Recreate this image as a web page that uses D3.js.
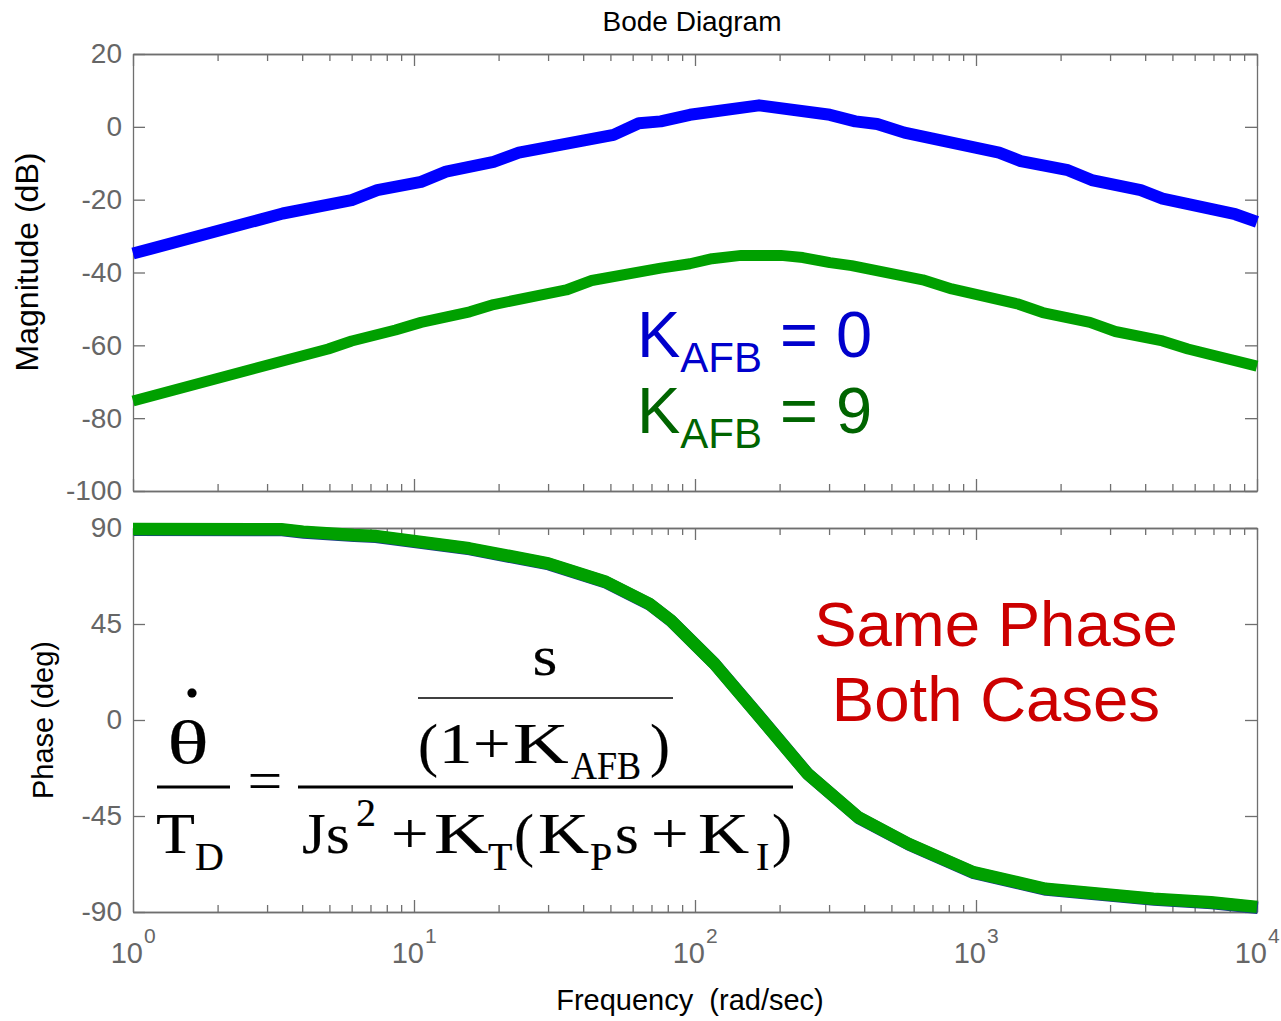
<!DOCTYPE html>
<html>
<head>
<meta charset="utf-8">
<script src="https://cdn.jsdelivr.net/npm/d3@7"></script>
<style>
  body { margin: 0; background: #fff; }
  svg { display: block; }
</style>
</head>
<body>
<svg id="chart" width="1281" height="1021"></svg>
<script>
// frequencies (rad/sec) and magnitudes (dB)
const blueFreq = [1, 3.41, 6.0, 7.4, 10.6, 13.0, 19.2, 23.6, 51.3, 63.1, 75.5, 95.9, 169, 302, 372, 445, 556, 1208, 1443, 2124, 2580, 3857, 4610, 8370, 10000];
const blueMag  = [-34.8, -23.8, -20.1, -17.4, -15.1, -12.3, -9.6, -7.1, -2.2, 1.0, 1.5, 3.3, 5.9, 3.3, 1.5, 0.8, -1.6, -7.1, -9.4, -11.9, -14.6, -17.4, -19.7, -24.0, -26.1];

const greenFreq = [1, 3.41, 4.95, 6.0, 8.59, 10.6, 15.8, 19.2, 34.8, 42.9, 75.5, 95.9, 115, 146, 202, 242, 302, 361, 646, 820, 1403, 1727, 2543, 3131, 4610, 5680, 10000];
const greenMag  = [-75.3, -64.3, -61.0, -58.8, -55.8, -53.7, -50.8, -48.8, -44.8, -42.2, -38.8, -37.6, -36.2, -35.3, -35.3, -35.9, -37.3, -38.1, -42.0, -44.5, -48.6, -51.0, -53.7, -56.2, -58.8, -61.0, -65.7];

// phase is the same for both cases
const phaseFreq = [1, 3.37, 4.03, 6.09, 7.26, 15.7, 30.0, 48.1, 68.5, 81.8, 117, 166, 251, 380, 574, 977, 1766, 4276, 6855, 10000];
const phaseDeg  = [89.5, 89.4, 88.3, 86.7, 86.3, 80.5, 73.4, 64.8, 54.6, 46.8, 26.5, 3.0, -25.1, -45.5, -58.0, -71.3, -79.1, -83.8, -85.4, -87.6];

const magTicks = [20, 0, -20, -40, -60, -80, -100];
const phaseTicks = [90, 45, 0, -45, -90];
const decades = [1, 10, 100, 1000, 10000];

const svg = d3.select("#chart");
const sans = "'Liberation Sans', Arial, sans-serif";
const serif = "'Liberation Serif', 'Times New Roman', serif";
const axisGrey = "#6f6f6f";

const left = 133, right = 1257;
const x = d3.scaleLog().domain([1, 1e4]).range([left, right]);
const yMag = d3.scaleLinear().domain([-100, 20]).range([491, 54]);
const yPh = d3.scaleLinear().domain([-90, 90]).range([912, 528]);

const minorTicks = [];
for (let d = 0; d < 4; d++) for (let k = 2; k <= 9; k++) minorTicks.push(k * Math.pow(10, d));

const styleAxis = (g) => {
  g.selectAll("path.domain").attr("stroke", axisGrey).attr("stroke-width", 1.3);
  g.selectAll(".tick line").attr("stroke", axisGrey).attr("stroke-width", 1.3);
  g.selectAll(".tick text").attr("fill", "#666").attr("font-size", 28).attr("font-family", sans);
};

const addFrame = (yScale, ticks, label) => {
  const [yb, yt] = yScale.range();
  // y axes, left with labels and right without
  svg.append("g")
    .attr("transform", `translate(${left},0)`)
    .call(d3.axisLeft(yScale).tickValues(ticks).tickSizeInner(-12).tickSizeOuter(0).tickPadding(11).tickFormat(d => String(d)))
    .call(styleAxis);
  svg.append("g")
    .attr("transform", `translate(${right},0)`)
    .call(d3.axisRight(yScale).tickValues(ticks).tickSizeInner(-12).tickSizeOuter(0).tickFormat(""))
    .call(styleAxis);
  // x ticks on top and bottom edges
  [[d3.axisTop, yt], [d3.axisBottom, yb]].forEach(([ax, yy]) => {
    svg.append("g")
      .attr("transform", `translate(0,${yy})`)
      .call(ax(x).tickValues(minorTicks).tickSizeInner(-7).tickSizeOuter(0).tickFormat(""))
      .call(styleAxis);
    svg.append("g")
      .attr("transform", `translate(0,${yy})`)
      .call(ax(x).tickValues(decades).tickSizeInner(-12).tickSizeOuter(0).tickFormat(""))
      .call(styleAxis);
  });
  svg.append("text")
    .attr("transform", `translate(${label.x},${label.y}) rotate(-90)`)
    .attr("text-anchor", "middle")
    .attr("font-family", sans)
    .attr("font-size", label.size)
    .text(label.text);
};

addFrame(yMag, magTicks, { x: 38, y: 262, size: 32, text: "Magnitude (dB)" });
addFrame(yPh, phaseTicks, { x: 53, y: 720, size: 29, text: "Phase (deg)" });

// curves
const magLine = d3.line().x(d => x(d[0])).y(d => yMag(d[1]));
const phLine = d3.line().x(d => x(d[0])).y(d => yPh(d[1]));

svg.append("path")
  .datum(blueFreq.map((f, i) => [f, blueMag[i]]))
  .attr("d", magLine).attr("fill", "none")
  .attr("stroke", "#0000ff").attr("stroke-width", 12).attr("stroke-linejoin", "round");
svg.append("path")
  .datum(greenFreq.map((f, i) => [f, greenMag[i]]))
  .attr("d", magLine).attr("fill", "none")
  .attr("stroke", "#00a000").attr("stroke-width", 11).attr("stroke-linejoin", "round");

const phData = phaseFreq.map((f, i) => [f, phaseDeg[i]]);
svg.append("path").datum(phData)
  .attr("d", phLine).attr("fill", "none").attr("transform", "translate(0.8,0.8)")
  .attr("stroke", "#1a3a8a").attr("stroke-width", 12.5).attr("stroke-linejoin", "round");
svg.append("path").datum(phData)
  .attr("d", phLine).attr("fill", "none")
  .attr("stroke", "#00a000").attr("stroke-width", 12.5).attr("stroke-linejoin", "round");

// x tick labels 10^n
const xl = svg.append("g").attr("font-family", sans).attr("fill", "#666");
decades.forEach((d, i) => {
  xl.append("text").attr("x", x(d) + 10).attr("y", 963).attr("text-anchor", "end").attr("font-size", 29).text("10");
  xl.append("text").attr("x", x(d) + 11).attr("y", 943).attr("font-size", 21).text(i);
});

// titles
svg.append("text").attr("x", 692).attr("y", 31).attr("text-anchor", "middle")
  .attr("font-family", sans).attr("font-size", 28).text("Bode Diagram");
svg.append("text").attr("x", 690).attr("y", 1010).attr("text-anchor", "middle")
  .attr("font-family", sans).attr("font-size", 29).style("white-space", "pre")
  .text("Frequency  (rad/sec)");

// legend-like annotations
const kLabel = (y, color, val) => {
  const t = svg.append("text").attr("x", 637).attr("y", y)
    .attr("font-family", sans).attr("font-size", 65).attr("fill", color);
  t.append("tspan").text("K");
  t.append("tspan").attr("font-size", 42).attr("dy", 15).text("AFB");
  t.append("tspan").attr("dy", -15).style("white-space", "pre").text(" = " + val);
};
kLabel(357, "#0000cc", "0");
kLabel(433, "#006400", "9");

svg.append("text").attr("x", 996).attr("y", 646).attr("text-anchor", "middle")
  .attr("font-family", sans).attr("font-size", 63.5).attr("fill", "#cc0000").text("Same Phase");
svg.append("text").attr("x", 996).attr("y", 721).attr("text-anchor", "middle")
  .attr("font-family", sans).attr("font-size", 63.5).attr("fill", "#cc0000").text("Both Cases");

// transfer function (glyphs placed one by one, a bit wider than plain Times)
const eq = svg.append("g").attr("font-family", serif).attr("fill", "#000")
  .attr("stroke", "#000").attr("stroke-width", 0.2);
const put = (txt, px, py, size, opts = {}) => {
  return eq.append("text")
    .attr("transform", `translate(${px},${py}) scale(${opts.sx || 1},1)`)
    .attr("font-size", size)
    .attr("text-anchor", opts.anchor || "start")
    .text(txt);
};
const bar = (x1, x2, yy, w) => eq.append("line").attr("x1", x1).attr("x2", x2)
  .attr("y1", yy).attr("y2", yy).attr("stroke", "#000").attr("stroke-width", w);

put("θ", 188, 763, 62, { anchor: "middle", sx: 1.4 });
eq.append("circle").attr("cx", 192).attr("cy", 693).attr("r", 4.5);
bar(157, 230, 787, 3);
put("T", 156, 853, 58, { sx: 1.1 });
put("D", 195, 870, 40);
put("=", 265, 800, 58, { anchor: "middle", sx: 1.05 });
bar(298, 793, 787, 3);

put("s", 545, 675, 58, { anchor: "middle", sx: 1.1 });
bar(418, 673, 698, 1.5);
put("(", 418, 765, 60);
put("1", 439, 763, 58, { sx: 1.15 });
put("+", 473, 763, 58, { sx: 1.15 });
put("K", 513, 763, 58, { sx: 1.33 });
put("AFB", 571, 779, 40, { sx: 0.9 });
put(")", 650, 765, 60);

put("J", 302, 853, 58, { sx: 1.05 });
put("s", 326, 853, 58, { sx: 1.05 });
put("2", 356, 826, 40);
put("+", 391, 853, 58, { sx: 1.15 });
put("K", 434, 853, 58, { sx: 1.3 });
put("T", 488, 870, 40);
put("(", 514, 855, 60);
put("K", 538, 853, 58, { sx: 1.22 });
put("P", 590, 870, 40);
put("s", 615, 853, 58, { sx: 1.05 });
put("+", 651, 853, 58, { sx: 1.15 });
put("K", 698, 853, 58, { sx: 1.22 });
put("I", 756, 870, 40);
put(")", 772, 855, 60);
</script>
</body>
</html>
